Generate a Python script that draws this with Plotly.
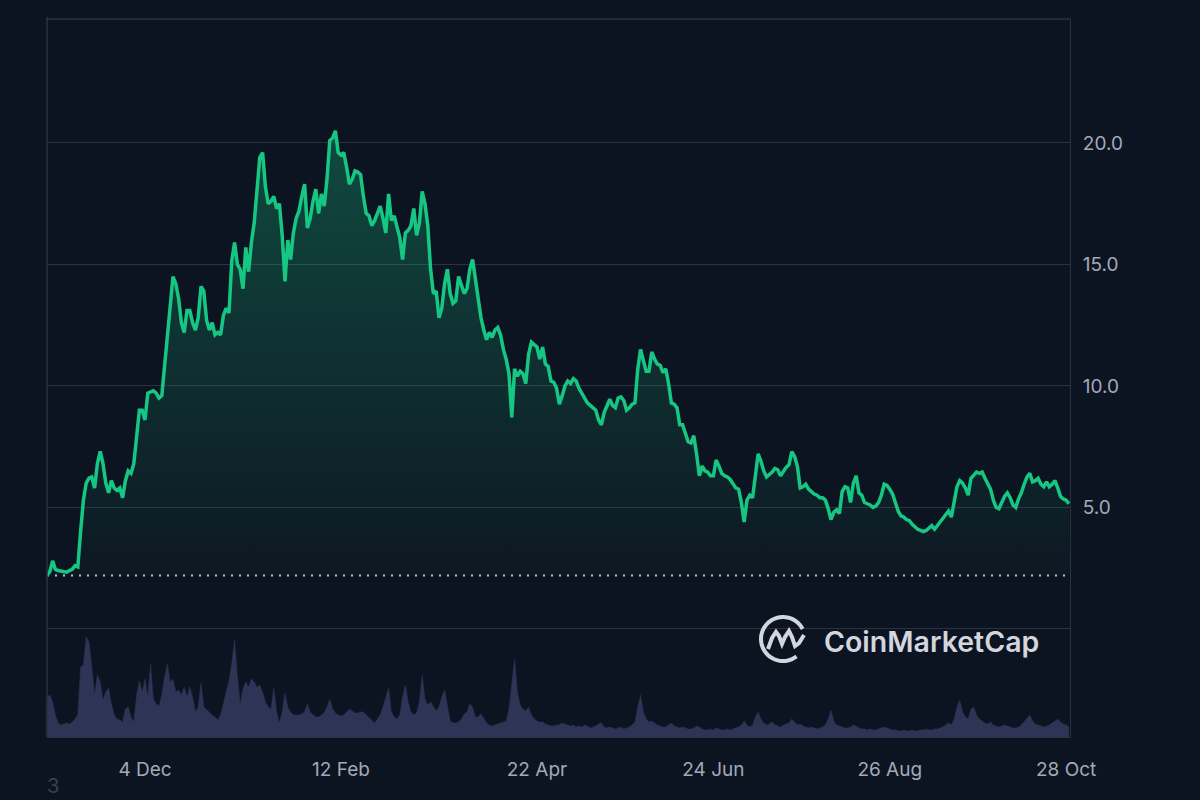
import math
import pandas as pd
import plotly.graph_objects as go

# ---------------- data ----------------
start_date = "2023-10-30"
end_date = "2024-10-29 09:00"

price = [
    2.2, 2.35, 2.8, 2.45, 2.4, 2.38, 2.35, 2.33, 2.4, 2.45,
    2.6, 2.55, 4.0, 5.3, 6.0, 6.2, 6.25, 5.8, 6.8, 7.3,
    6.8, 6.0, 5.6, 6.1, 5.8, 5.7, 5.8, 5.4, 6.1, 6.5,
    6.4, 6.8, 7.9, 9.0, 9.0, 8.6, 9.7, 9.75, 9.8, 9.7,
    9.5, 9.6, 10.8, 12.0, 13.2, 14.5, 14.2, 13.6, 12.6, 12.2,
    13.1, 13.1, 12.6, 12.3, 12.8, 14.1, 13.9, 12.7, 12.3, 12.6,
    12.1, 12.2, 12.1, 12.9, 13.2, 13.0, 15.15, 15.9, 15.0, 14.8,
    14.0, 15.7, 14.7, 15.9, 16.7, 18.2, 19.4, 19.6, 18.2, 17.5,
    17.6, 17.8, 17.3, 17.5, 16.2, 14.3, 16.0, 15.2, 16.3, 16.9,
    17.2, 17.8, 18.3, 16.5, 16.9, 17.6, 18.1, 17.1, 17.9, 17.4,
    18.5, 20.1, 20.2, 20.5, 19.6, 19.5, 19.6, 19.0, 18.3, 18.5,
    18.85, 18.8, 18.7, 17.8, 17.1, 17.0, 16.6, 16.8, 17.1, 17.4,
    16.9, 16.3, 17.9, 16.8, 17.0, 16.6, 16.1, 15.2, 16.3, 16.4,
    16.6, 17.3, 16.2, 16.7, 18.0, 17.5, 16.6, 14.8, 13.8, 13.9,
    12.8, 13.2, 14.2, 14.8, 13.8, 13.4, 13.5, 14.5, 14.2, 13.8,
    14.0, 14.8, 15.2, 14.4, 13.8, 12.8, 12.3, 11.9, 12.2, 12.0,
    12.3, 12.4, 12.1, 11.5, 11.1, 10.5, 8.7, 10.7, 10.4, 10.6,
    10.5, 10.1, 11.3, 11.8, 11.7, 11.6, 11.1, 11.6, 10.9, 10.8,
    10.2, 10.15, 9.9, 9.25, 9.6, 10.0, 10.2, 10.1, 10.3, 10.2,
    9.9, 9.7, 9.45, 9.3, 9.2, 9.1, 9.0, 8.6, 8.4, 8.9,
    9.15, 9.45, 9.2, 9.1, 9.5, 9.55, 9.4, 9.0, 9.1, 9.25,
    9.3, 10.7, 11.5, 11.0, 10.6, 10.6, 11.4, 11.1, 10.9, 10.85,
    10.55, 10.7, 10.1, 9.3, 9.25, 9.1, 8.4, 8.4, 8.0, 7.7,
    7.65, 7.95, 7.2, 6.3, 6.7, 6.5, 6.45, 6.3, 6.3, 6.95,
    6.7, 6.4, 6.3, 6.25, 6.15, 5.95, 5.8, 5.75, 5.2, 4.4,
    5.3, 5.5, 5.4, 6.3, 7.2, 6.9, 6.5, 6.25, 6.35, 6.45,
    6.6, 6.55, 6.3, 6.5, 6.65, 6.75, 7.3, 7.1, 6.7, 5.8,
    5.85, 5.95, 5.75, 5.65, 5.55, 5.5, 5.4, 5.4, 5.3, 4.95,
    4.5, 4.8, 4.9, 4.75, 5.65, 5.85, 5.8, 5.2, 6.0, 6.3,
    5.6, 5.5, 5.2, 5.15, 5.1, 5.0, 5.05, 5.2, 5.5, 5.95,
    5.9, 5.75, 5.55, 5.2, 4.85, 4.65, 4.6, 4.5, 4.45, 4.3,
    4.2, 4.1, 4.05, 4.0, 4.05, 4.15, 4.25, 4.1, 4.25, 4.35,
    4.5, 4.65, 4.85, 4.6, 5.2, 5.85, 6.1, 6.0, 5.8, 5.5,
    6.2, 6.35, 6.45, 6.4, 6.45, 6.2, 6.0, 5.75, 5.3, 5.0,
    4.95, 5.2, 5.45, 5.6, 5.4, 5.1, 5.0, 5.35, 5.6, 5.95,
    6.25, 6.4, 6.05, 6.1, 6.2, 5.95, 5.85, 6.05, 5.85, 5.95,
    6.1, 5.8, 5.45, 5.35, 5.3, 5.15,
]

volume = [
    40, 42, 35, 22, 14, 12, 13, 14, 13, 15,
    18, 22, 70, 72, 100, 95, 70, 42, 62, 55,
    37, 45, 49, 33, 22, 18, 17, 15, 28, 30,
    20, 15, 42, 56, 45, 58, 40, 73, 38, 33,
    31, 42, 60, 73, 55, 58, 45, 47, 42, 50,
    40, 50, 40, 25, 30, 54, 30, 27, 25, 22,
    20, 17, 22, 35, 45, 56, 74, 97, 60, 33,
    48, 55, 50, 58, 55, 50, 52, 45, 35, 30,
    28, 49, 25, 14, 25, 44, 30, 25, 22, 22,
    22, 23, 25, 33, 25, 22, 20, 20, 22, 24,
    30, 38, 28, 24, 22, 21, 22, 25, 28, 26,
    24, 24, 25, 25, 22, 20, 16, 14, 18, 22,
    30, 40, 49, 25, 20, 18, 22, 40, 52, 35,
    25, 22, 24, 35, 62, 38, 32, 35, 30, 26,
    30, 40, 47, 30, 16, 14, 14, 15, 18, 23,
    25, 33, 30, 20, 20, 23, 18, 14, 12, 11,
    12, 13, 14, 15, 16, 28, 56, 78, 45, 32,
    28, 26, 30, 22, 18, 16, 15, 15, 13, 12,
    11, 11, 12, 12, 14, 13, 12, 11, 12, 10,
    11, 10, 12, 11, 9, 10, 11, 13, 14, 10,
    9, 10, 9, 8, 9, 10, 8, 9, 10, 12,
    15, 30, 42, 25, 18, 15, 16, 14, 12, 11,
    10, 10, 12, 14, 11, 10, 9, 10, 9, 8,
    8, 9, 11, 10, 8, 7, 7, 8, 7, 9,
    8, 7, 7, 8, 7, 8, 9, 10, 12, 16,
    12, 10, 12, 20, 25, 18, 14, 12, 13, 15,
    12, 11, 10, 12, 13, 14, 18, 15, 12, 13,
    11, 10, 9, 10, 9, 8, 9, 10, 12, 18,
    27, 16, 12, 11, 10, 9, 9, 10, 12, 11,
    9, 8, 8, 7, 8, 7, 7, 8, 9, 10,
    9, 8, 7, 7, 6, 6, 7, 6, 6, 7,
    6, 6, 7, 7, 8, 7, 7, 8, 8, 9,
    10, 12, 14, 12, 18, 30, 37, 25, 20, 18,
    28, 30, 22, 18, 16, 14, 13, 15, 12, 11,
    10, 11, 12, 11, 10, 9, 9, 10, 12, 15,
    18, 22, 16, 13, 12, 11, 10, 11, 12, 14,
    16, 18, 15, 13, 12, 10,
]

x_tick_dates = ["2023-12-04", "2024-02-12", "2024-04-22",
                "2024-06-24", "2024-08-26", "2024-10-28"]
y_tick_values = [0, 5, 10, 15, 20]
y_tick_labels = ["", "5.0", "10.0", "15.0", "20.0"]

# ---------------- style ----------------
BG = "#0d1421"
GRID = "#2a3140"
TICK_COLOR = "#a3a9ba"
GREEN = "#16c784"
VOL_COLOR = "#2d3456"
FONT = "Inter"

dates = pd.date_range(start_date, periods=len(price), freq="D")

fig = go.Figure()

# volume (bottom area)
fig.add_trace(go.Scatter(
    x=dates, y=volume, yaxis="y2", mode="lines",
    line=dict(width=0.5, color=VOL_COLOR),
    fill="tozeroy", fillcolor=VOL_COLOR, hoverinfo="skip",
))

# dotted baseline at the opening price
fig.add_trace(go.Scatter(
    x=[dates[0], end_date], y=[price[0], price[0]], mode="lines",
    line=dict(color="rgba(205,210,220,0.9)", width=2, dash="2px,6px"),
    hoverinfo="skip",
))

# price line with gradient fill down to baseline
fig.add_trace(go.Scatter(
    x=dates, y=price, mode="lines",
    line=dict(color=GREEN, width=3.5),
    fill="tonexty",
    fillgradient=dict(
        type="vertical",
        colorscale=[[0, "rgba(22,199,132,0.02)"], [1, "rgba(22,199,132,0.30)"]],
        start=price[0], stop=max(price),
    ),
    hoverinfo="skip",
))

# ---------------- layout ----------------
L, R, T, B = 47, 1070, 19, 737  # plot area in pixels
W_PX, H_PX = R - L, B - T


def px(x, y):
    return (x - L) / W_PX, (B - y) / H_PX


fig.update_layout(
    width=1200, height=800,
    margin=dict(l=L, r=1200 - R, t=T, b=800 - B, pad=0),
    paper_bgcolor=BG, plot_bgcolor=BG,
    showlegend=False,
    font=dict(family=FONT, color=TICK_COLOR, size=19),
    xaxis=dict(
        type="date", range=[start_date, end_date],
        tickvals=x_tick_dates, tickformat="%-d %b",
        showgrid=False, zeroline=False,
        showline=True, linecolor=GRID, linewidth=1,
        ticks="", ticklabelstandoff=15,
        tickfont=dict(family=FONT, size=19, color=TICK_COLOR),
        fixedrange=True,
    ),
    yaxis=dict(
        range=[-4.45, 25.1], side="right",
        tickvals=y_tick_values, ticktext=y_tick_labels,
        showgrid=True, gridcolor=GRID, gridwidth=1,
        zeroline=False, showline=True, linecolor=GRID, linewidth=1,
        ticks="", ticklabelstandoff=8,
        tickfont=dict(family=FONT, size=19, color=TICK_COLOR),
    ),
    yaxis2=dict(
        overlaying="y", range=[0, max(volume) * 7.18], visible=False,
    ),
)

# frame: left and top lines
fig.add_shape(type="line", xref="paper", yref="paper", x0=0, x1=0, y0=0, y1=1.003,
              line=dict(color=GRID, width=1.5))
fig.add_shape(type="line", xref="paper", yref="paper", x0=0, x1=1, y0=1, y1=1,
              line=dict(color=GRID, width=1.5))

# CoinMarketCap watermark logo (decorative)
cx, cy, r = 783, 639, 22
arc = []
for i in range(0, 61):
    a = math.radians(27 + (308 - 27) * i / 60)
    arc.append(px(cx + r * math.cos(a), cy - r * math.sin(a)))
arc_path = "M " + " L ".join(f"{a:.5f},{b:.5f}" for a, b in arc)
fig.add_shape(type="path", xref="paper", yref="paper", path=arc_path,
              line=dict(color="#d3d6de", width=4))
squiggle_px = [(768, 649), (772, 638), (776, 632), (779, 636), (782, 644),
               (785, 637), (789, 631), (792, 637), (795, 646), (799, 643), (804, 635)]
sq = [px(a, b) for a, b in squiggle_px]
sq_path = "M " + " L ".join(f"{a:.5f},{b:.5f}" for a, b in sq)
fig.add_shape(type="path", xref="paper", yref="paper", path=sq_path,
              line=dict(color="#d3d6de", width=4))

wx, wy = px(822, 641)
fig.add_annotation(xref="paper", yref="paper", x=wx, y=wy, text="CoinMarketCap",
                   showarrow=False, xanchor="left", yanchor="middle",
                   font=dict(family=FONT, size=28.5, color="#d3d6de", weight=600))

# stray glyph bottom-left
gx, gy = px(53, 786)
fig.add_annotation(xref="paper", yref="paper", x=gx, y=gy, text="3",
                   showarrow=False, xanchor="center", yanchor="middle",
                   font=dict(family=FONT, size=20, color="#3a404c"))

fig.write_html("out.html")
